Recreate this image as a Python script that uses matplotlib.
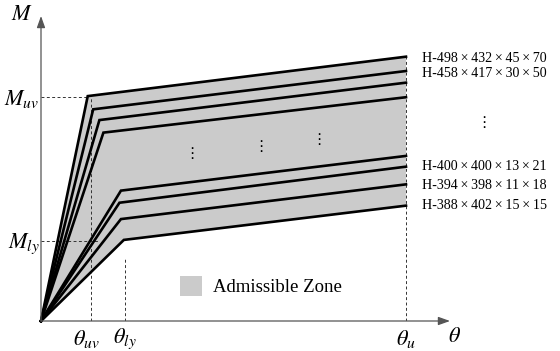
import matplotlib
matplotlib.use("Agg")
import matplotlib.pyplot as plt
from matplotlib.patches import Patch

plt.rcParams['font.family'] = ['Liberation Serif', 'DejaVu Serif']
plt.rcParams['mathtext.fontset'] = 'stix'

T = '\u2009×\u2009'
# Section labels (top to bottom of the right-hand label column)
labels_top = ["H-498" + T + "432" + T + "45" + T + "70", "H-458" + T + "417" + T + "30" + T + "50"]
labels_bot = ["H-400" + T + "400" + T + "13" + T + "21", "H-394" + T + "398" + T + "11" + T + "18",
              "H-388" + T + "402" + T + "15" + T + "15"]

# Bilinear curves (normalised units: theta_u = 1, M_uv = 1)
theta_y = [0.128, 0.143, 0.160, 0.171, 0.219, 0.215, 0.219, 0.227]
M_y     = [1.004, 0.945, 0.897, 0.841, 0.582, 0.528, 0.455, 0.362]
M_u     = [1.180, 1.116, 1.064, 0.999, 0.737, 0.689, 0.610, 0.515]
theta_u = 1.0

theta_uv, theta_ly = 0.136, 0.230
M_uv, M_ly = 1.0, 0.357

fig = plt.figure(figsize=(5.6, 3.51), dpi=100)
ax = fig.add_axes([41/560, 30/351, 409/560, 305/351])
xmax, ymax = 409/365, 305/224
ax.set_xlim(0, xmax)
ax.set_ylim(0, ymax)
ax.axis('off')

# admissible zone
top = ([0, theta_y[0], theta_u], [0, M_y[0], M_u[0]])
bot = ([0, theta_y[-1], theta_u], [0, M_y[-1], M_u[-1]])
poly_x = top[0] + bot[0][::-1]
poly_y = top[1] + bot[1][::-1]
zone_color = '#cbcbcb'
ax.fill(poly_x, poly_y, color=zone_color, lw=0, zorder=1)

# dashed reference lines
dkw = dict(color='#333333', lw=0.7, ls=(0, (3, 2.5)), zorder=2)
ax.plot([0, theta_y[0] - 0.005], [M_uv, M_uv], **dkw)
ax.plot([0, 0.16], [M_ly, M_ly], **dkw)
ax.plot([theta_uv, theta_uv], [0, M_uv], **dkw)
ax.plot([theta_ly, theta_ly], [0, 0.28], **dkw)
ax.plot([theta_u, theta_u], [0, M_u[0]], **dkw)

# curves
for ty, my, mu in zip(theta_y, M_y, M_u):
    ax.plot([0, ty, theta_u], [0, my, mu], color='black', lw=1.9,
            solid_joinstyle='miter', zorder=3, clip_on=False)

# axes with arrows
akw = dict(arrowstyle='-|>,head_length=0.7,head_width=0.25', color='#555555', lw=0.9,
           shrinkA=0, shrinkB=0)
ax.annotate('', xy=(xmax, 0), xytext=(0, 0), arrowprops=akw, annotation_clip=False)
ax.annotate('', xy=(0, ymax), xytext=(0, 0), arrowprops=akw, annotation_clip=False)

# axis labels
ax.text(-0.052, ymax, r'$M$', fontsize=16, ha='center', va='center')
ax.text(-0.004, M_uv - 0.01, r'$M_{uv}$', fontsize=16, ha='right', va='center')
ax.text(-0.002, M_ly - 0.01, r'$M_{ly}$', fontsize=16, ha='right', va='center')
ax.text(theta_uv - 0.01, -0.08, r'$\theta_{uv}$', fontsize=16, ha='center', va='center')
ax.text(theta_ly + 0.0, -0.08, r'$\theta_{ly}$', fontsize=16, ha='center', va='center')
ax.text(theta_u, -0.08, r'$\theta_{u}$', fontsize=16, ha='center', va='center')
ax.text(1.134, -0.075, r'$\theta$', fontsize=16, ha='center', va='center')

# right-hand labels
lx = 1.043
for lab, m in zip(labels_top, M_u[:2]):
    ax.text(lx, m - 0.01, lab, fontsize=10.1, ha='left', va='center', clip_on=False)
for lab, m in zip(labels_bot, [M_u[5] + 0.0, M_u[6] - 0.005, M_u[7]]):
    ax.text(lx, m, lab, fontsize=10.1, ha='left', va='center', clip_on=False)
ax.text(1.213, 0.885, '⋮', fontsize=11, ha='center', va='center',
        family='DejaVu Sans', clip_on=False)

# dots inside zone
for (dx, dy) in [(0.413, 0.748), (0.602, 0.78), (0.762, 0.81)]:
    ax.text(dx, dy, '⋮', fontsize=11, ha='center', va='center', family='DejaVu Sans')

# legend
leg = ax.legend(handles=[Patch(facecolor=zone_color, edgecolor='none', label='Admissible Zone')],
                loc='center left', bbox_to_anchor=(0.298, 0.115), frameon=False,
                fontsize=13.5, handlelength=1.2, handleheight=1.3, handletextpad=0.55)

fig.savefig('out.png', dpi=100)
